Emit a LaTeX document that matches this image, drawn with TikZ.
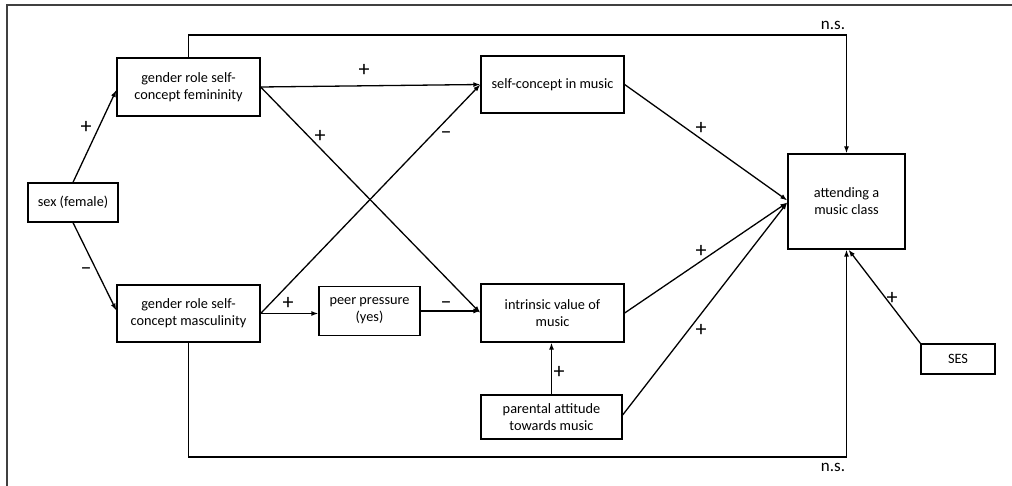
\documentclass[tikz,border=0pt]{standalone}
\usepackage{fontspec}
\setmainfont{Carlito}
\usetikzlibrary{arrows.meta}
\begin{document}
\begin{tikzpicture}[x=1pt,y=-1pt,
  every node/.style={font=\fontsize{14.3}{17}\selectfont},
  box/.style={draw=black,line width=1.3pt,align=center,inner sep=0pt,fill=white},
  conn/.style={draw=black,line width=1.3pt,-{Latex[length=7pt,width=5pt]}},
  lbl/.style={inner sep=0pt,font=\fontsize{22}{22}\selectfont},
  nslbl/.style={inner sep=0pt,font=\fontsize{17}{17}\selectfont}]
\useasboundingbox (0,0) rectangle (1012,486);
\draw[line width=2pt,draw=black!75] (7,486) -- (7,5) -- (1012,5);
% nodes
\node[box,minimum width=90,minimum height=39] (sex) at (73,202.5) {sex (female)};
\node[box,minimum width=143,minimum height=58] (fem) at (188.5,87) {gender role self-\\concept femininity};
\node[box,minimum width=143,minimum height=57] (masc) at (188.5,313.5) {gender role self-\\concept masculinity};
\node[box,minimum width=101,minimum height=49] (peer) at (369.5,311) {peer pressure\\(yes)};
\node[box,minimum width=143,minimum height=57] (sc) at (552.5,84.5) {self-concept in music};
\node[box,minimum width=143,minimum height=58] (int) at (552.5,313) {intrinsic value of\\music};
\node[box,minimum width=141,minimum height=44] (par) at (551.5,417) {parental attitude\\towards music};
\node[box,minimum width=117,minimum height=95] (att) at (846.5,201.5) {attending a\\music class};
\node[box,minimum width=74,minimum height=30] (ses) at (958,359) {SES};
\coordinate (top) at (0,35);
\coordinate (bot) at (0,457);
% connectors
\draw[conn] (sex.north) -- ([yshift=-3pt]fem.west);
\draw[conn] (sex.south) -- ([yshift=3pt]masc.west);
\draw[conn] (fem.north) -- (fem.north |- top) -| (att.north);
\draw[conn] (masc.south) -- (masc.south |- bot) -| (att.south);
\draw[conn] (fem.east) -- (sc.west);
\draw[conn] (fem.east) -- (int.west);
\draw[conn] (masc.east) -- (sc.west);
\draw[conn] (masc.east) -- (masc.east -| peer.west);
\draw[conn] (peer.east) -- (peer.east -| int.west);
\draw[conn] (par.north) -- (par.north |- int.south);
\draw[conn] (sc.east) -- ([yshift=1pt]att.west);
\draw[conn] (int.east) -- ([yshift=-1pt]att.west);
\draw[conn] ([yshift=2pt]par.east) -- ([yshift=-1pt]att.west);
\draw[conn] (ses.north west) -- ([xshift=2pt]att.south);
% labels
\node[lbl] (l1) at (86,127) {+};
\node[lbl] (l2) at (86,271) {\textendash};
\node[lbl] (l3) at (364,70) {+};
\node[lbl] (l4) at (320,136) {+};
\node[lbl] (l5) at (446,135) {\textendash};
\node[lbl] (l6) at (288,303) {+};
\node[lbl] (l7) at (446,305) {\textendash};
\node[lbl] (l8) at (559,372) {+};
\node[lbl] (l9) at (701,128) {+};
\node[lbl] (l10) at (701,251) {+};
\node[lbl] (l11) at (701,330) {+};
\node[lbl] (l12) at (892,298) {+};
\node[nslbl] (ns1) at (833,25) {n.s.};
\node[nslbl] (ns2) at (833,467) {n.s.};
\end{tikzpicture}
\end{document}
